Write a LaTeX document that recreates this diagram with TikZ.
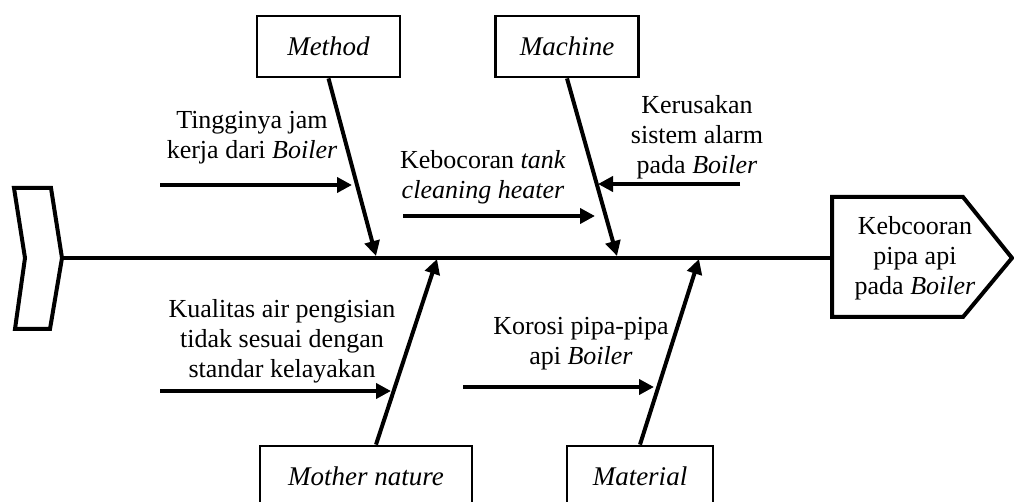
\documentclass[tikz,border=0pt]{standalone}
\usepackage{fontspec}
\setmainfont{Liberation Serif}
\usetikzlibrary{positioning, arrows.meta, calc}

\begin{document}
\begin{tikzpicture}[
    x=0.5pt, y=-0.5pt,
    font=\fontsize{13}{15}\selectfont,
    catbox/.style={rectangle, draw, line width=1.4pt, minimum width=71.5pt, minimum height=30.5pt, inner sep=0pt, font=\fontsize{13.5}{15}\selectfont\itshape},
    cause/.style={align=center, inner sep=0pt},
    bone/.style={-{Triangle[length=7.5pt, width=7.5pt]}, line width=2pt},
    spine/.style={line width=2pt},
    shapeline/.style={line width=2pt, line join=miter},
]
\useasboundingbox (0,0) rectangle (1014,502);
\clip (0,0) rectangle (1014,502);

% ============ Kepala dan ekor ============
\draw[shapeline] (14,188) -- (51,188) -- (62,258) -- (50,329) -- (15,329) -- (25,258) -- cycle;
\coordinate (tail) at (62,258);
\draw[shapeline] (832,197) -- (963,197) -- (1012,258) -- (963,317) -- (832,317) -- cycle;
\coordinate (head) at (832,258);
\node[cause] (effect) at (915,258) {Kebcooran\\pipa api\\pada \textit{Boiler}};

% ============ Tulang utama ============
\draw[spine] (tail) -- (head);

% ============ Kategori ============
\node[catbox] (method) at (328.5,46.5) {Method};
\node[catbox] (machine) at (567,46.5) {Machine};
\node[catbox, minimum width=106pt] (nature) at (366,476.5) {Mother nature};
\node[catbox, minimum width=73pt] (material) at (640,476.5) {Material};

\coordinate (m_method) at (376,256);
\coordinate (m_machine) at (617,256);
\coordinate (m_nature) at (437,259);
\coordinate (m_material) at (699,259);

\draw[bone] (method.south) -- (m_method);
\draw[bone] (machine.south) -- (m_machine);
\draw[bone] ([xshift=5pt]nature.north) -- (m_nature);
\draw[bone] (material.north) -- (m_material);

% ============ Penyebab ============
\node[cause] (c_jam) at (252,138) {Tingginya jam\\kerja dari \textit{Boiler}};
\node[cause] (c_tank) at (483,177) {Kebocoran \textit{tank}\\\textit{cleaning heater}};
\node[cause] (c_alarm) at (697,137) {Kerusakan\\sistem alarm\\pada \textit{Boiler}};
\node[cause] (c_air) at (282,341) {Kualitas air pengisian\\tidak sesuai dengan\\standar kelayakan};
\node[cause] (c_korosi) at (581,344) {Korosi pipa-pipa\\api \textit{Boiler}};

\coordinate (jam_s) at (160,185);
\coordinate (jam_e) at (352,185);
\coordinate (tank_s) at (403,216);
\coordinate (tank_e) at (595,216);
\coordinate (alarm_s) at (740,184);
\coordinate (alarm_e) at (598,184);
\coordinate (air_s) at (160,391);
\coordinate (air_e) at (391,391);
\coordinate (korosi_s) at (463,387);
\coordinate (korosi_e) at (654,387);

\draw[bone] (jam_s) -- (jam_e);
\draw[bone] (tank_s) -- (tank_e);
\draw[bone] (alarm_s) -- (alarm_e);
\draw[bone] (air_s) -- (air_e);
\draw[bone] (korosi_s) -- (korosi_e);

\end{tikzpicture}
\end{document}
